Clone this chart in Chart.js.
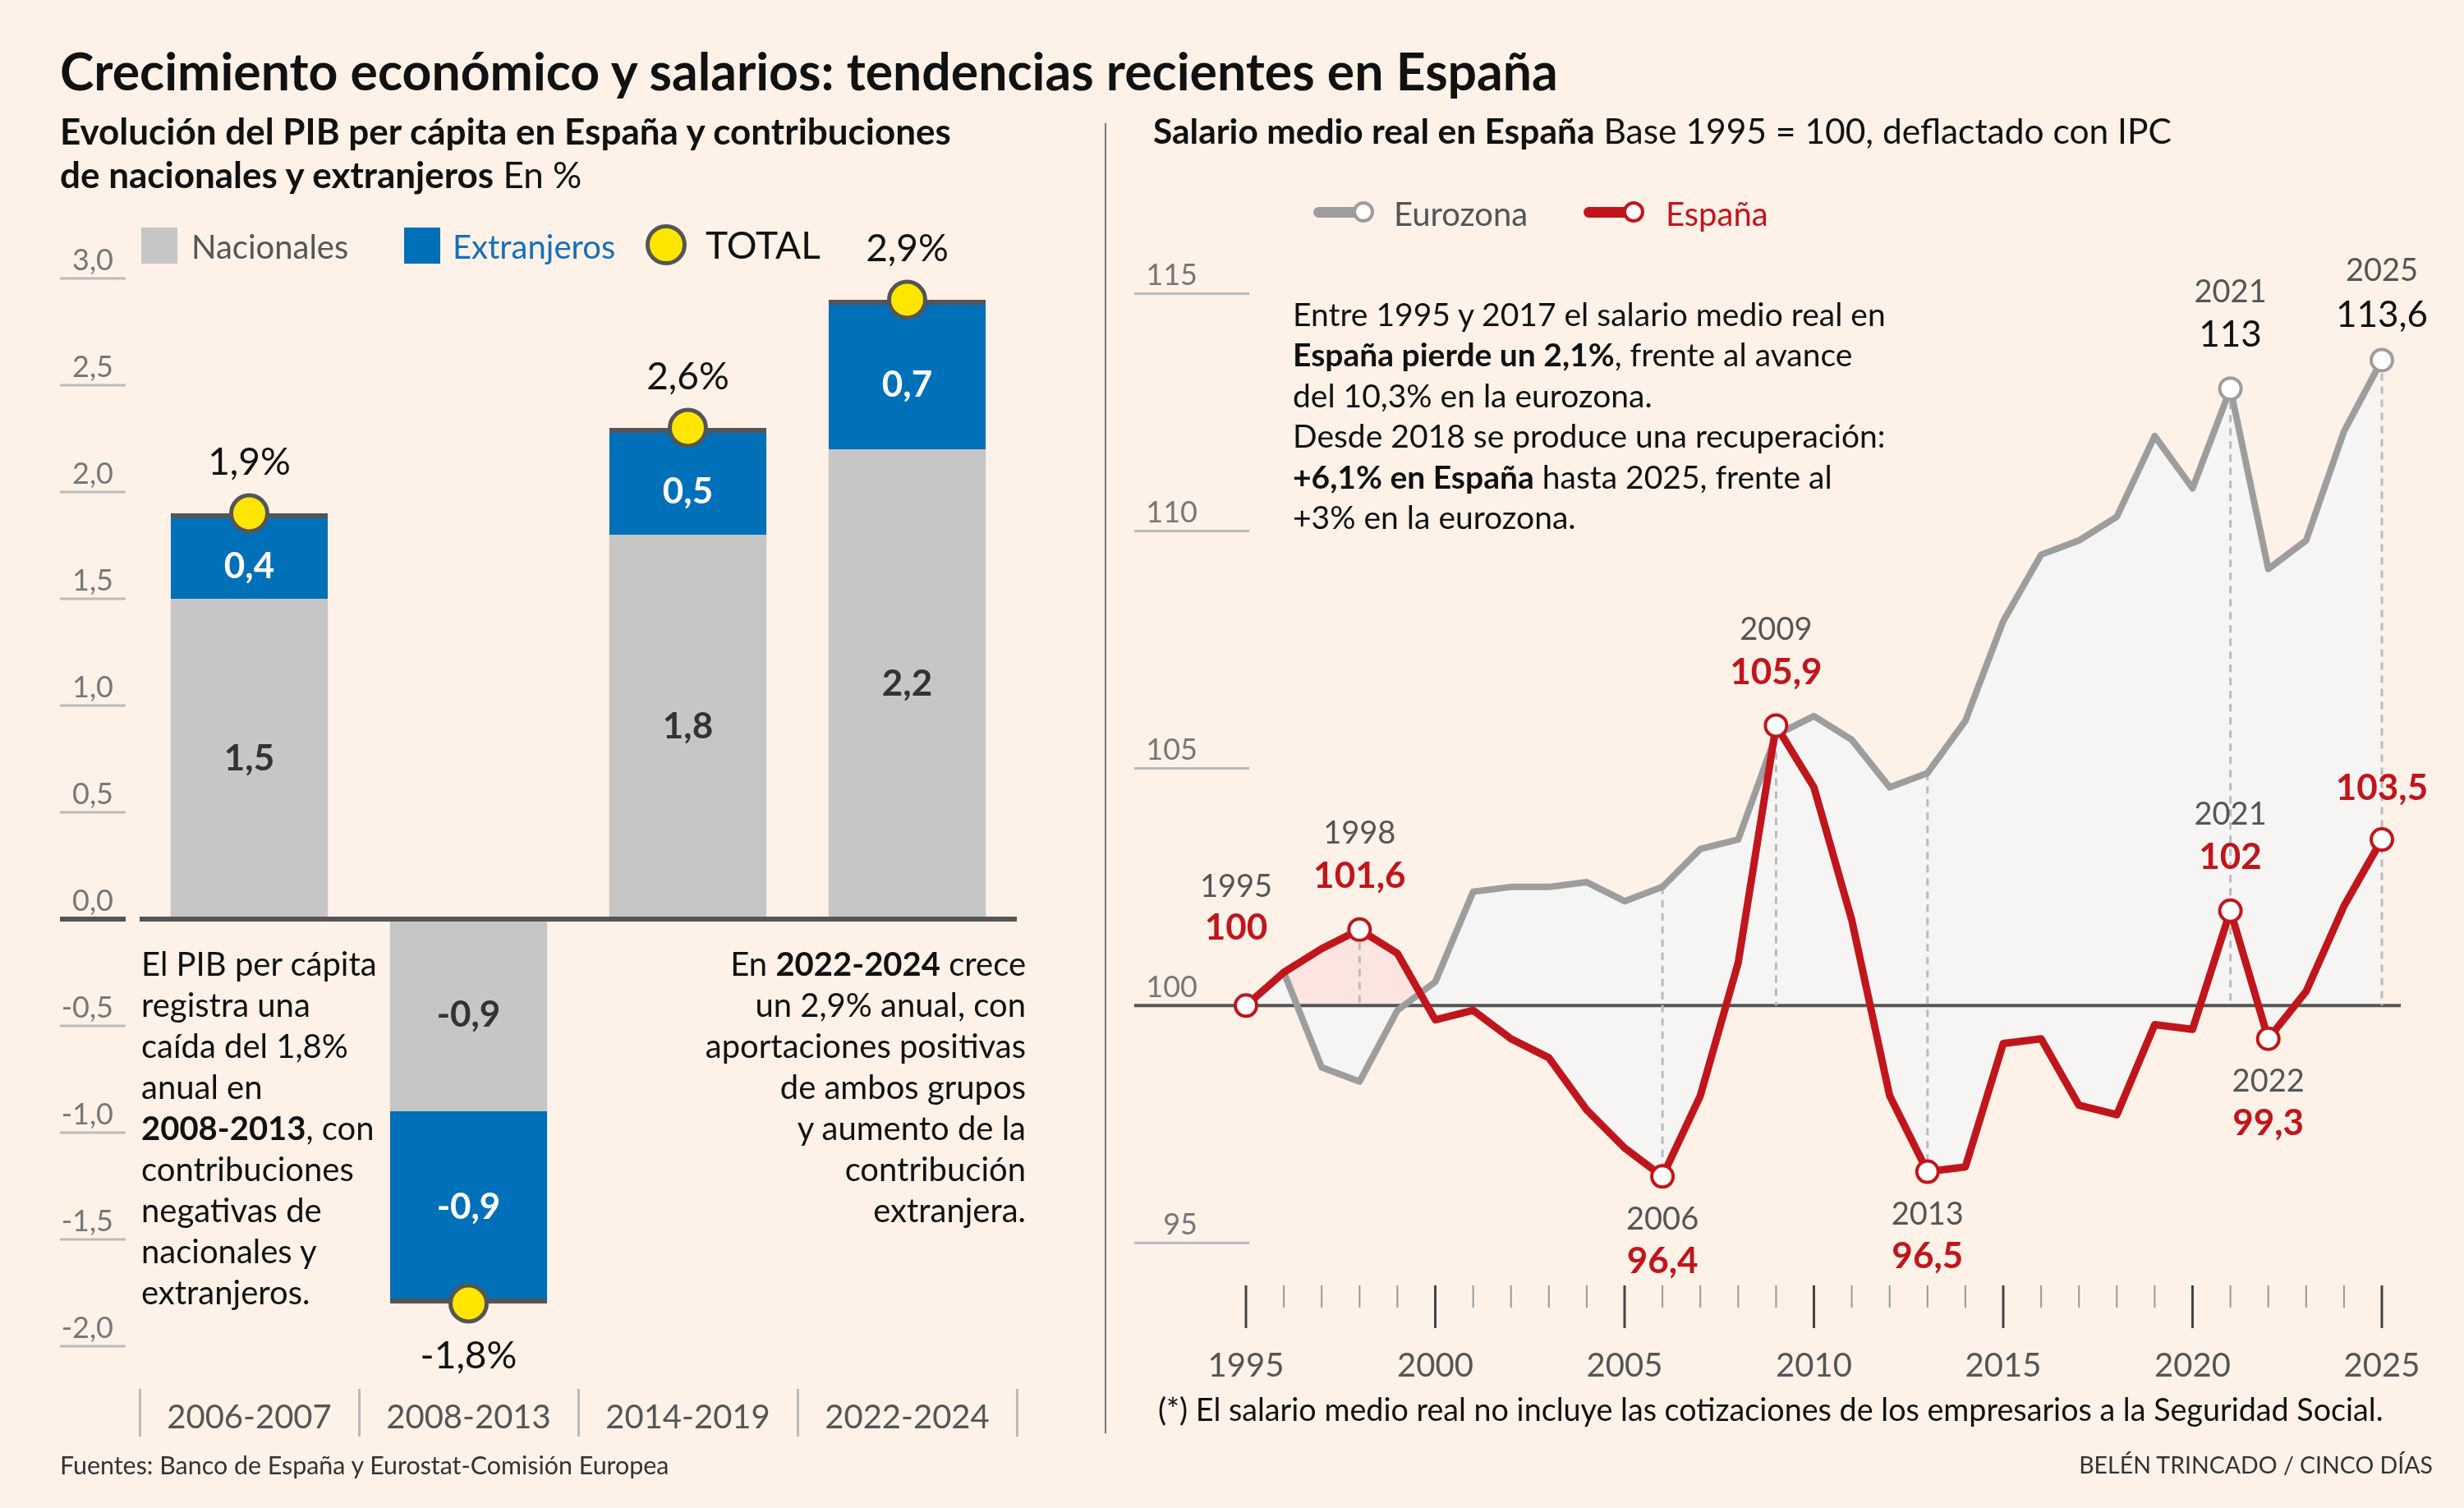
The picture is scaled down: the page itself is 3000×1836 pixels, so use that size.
<!DOCTYPE html>
<html lang="es">
<head>
<meta charset="utf-8">
<title>Crecimiento económico y salarios</title>
<script src="https://cdn.jsdelivr.net/npm/chart.js@4.4.1/dist/chart.umd.min.js"></script>
<style>
  html, body { margin: 0; padding: 0; }
  body {
    width: 3000px; height: 1836px; position: relative; overflow: hidden;
    background: #fdf1e8; color: #111;
    font-family: Lato, "Open Sans", sans-serif;
  }
  canvas { position: absolute; top: 0; }
  #pib { left: 0; }
  #salario { left: 1360px; }
  .t { position: absolute; white-space: nowrap; line-height: 1; transform: translateY(-50%); }
  .blk { position: absolute; white-space: nowrap; }
  .sq { position: absolute; width: 44px; height: 44px; }
  .sep { position: absolute; left: 1345px; top: 150px; width: 2px; height: 1595px; background: #777; }
  .lgline { position: absolute; height: 13px; border-radius: 7px; }
  .lgdot { position: absolute; width: 18px; height: 18px; border-radius: 50%; background: #fff; border: 4px solid; }
</style>
</head>
<body>
<canvas id="pib" width="1320" height="1836"></canvas>
<canvas id="salario" width="1640" height="1836"></canvas>

<div class="sep"></div>

<div class="t" style="left:73px; top:86px; font-size:62.5px; font-weight:700;">Crecimiento económico y salarios: tendencias recientes en España</div>

<div class="t" style="left:73px; top:159px; font-size:44px;"><b>Evolución del PIB per cápita en España y contribuciones</b></div>
<div class="t" style="left:73px; top:212px; font-size:44px;"><b>de nacionales y extranjeros</b> En %</div>

<div class="t" style="left:1404px; top:159px; font-size:42.5px;"><b>Salario medio real en España</b> Base 1995 = 100, deflactado con IPC</div>

<!-- leyenda izquierda -->
<div class="sq" style="left:172px; top:277px; background:#c6c6c6;"></div>
<div class="t" style="left:233px; top:300px; font-size:40px; color:#555;">Nacionales</div>
<div class="sq" style="left:492px; top:277px; background:#0070b8;"></div>
<div class="t" style="left:551px; top:300px; font-size:40px; color:#1570b8;">Extranjeros</div>
<div style="position:absolute; left:786px; top:273px; width:40px; height:40px; border-radius:50%; background:#ffe600; border:5px solid #555;"></div>
<div class="t" style="left:859px; top:298px; font-size:46px;">TOTAL</div>

<!-- leyenda derecha -->
<div class="lgline" style="left:1599px; top:252px; width:60px; background:#9d9d9d;"></div>
<div class="lgdot" style="left:1647px; top:245px; border-color:#9d9d9d;"></div>
<div class="t" style="left:1697px; top:260px; font-size:40px; color:#555;">Eurozona</div>
<div class="lgline" style="left:1928px; top:252px; width:60px; background:#c1151c;"></div>
<div class="lgdot" style="left:1976px; top:245px; border-color:#c1151c;"></div>
<div class="t" style="left:2028px; top:260px; font-size:40px; color:#c1151c;">España</div>

<!-- notas -->
<div class="blk" style="left:172px; top:1148px; font-size:40px; line-height:50px;">
El PIB per cápita<br>registra una<br>caída del 1,8%<br>anual en<br><b>2008-2013</b>, con<br>contribuciones<br>negativas de<br>nacionales y<br>extranjeros.
</div>
<div class="blk" style="right:1751px; top:1148px; font-size:40px; line-height:50px; text-align:right;">
En <b>2022-2024</b> crece<br>un 2,9% anual, con<br>aportaciones positivas<br>de ambos grupos<br>y aumento de la<br>contribución<br>extranjera.
</div>
<div class="blk" style="left:1574px; top:358px; font-size:39px; line-height:49.4px;">
Entre 1995 y 2017 el salario medio real en<br><b>España pierde un 2,1%</b>, frente al avance<br>del 10,3% en la eurozona.<br>Desde 2018 se produce una recuperación:<br><b>+6,1% en España</b> hasta 2025, frente al<br>+3% en la eurozona.
</div>

<div class="t" style="left:1410px; top:1716px; font-size:37.7px;">(*) El salario medio real no incluye las cotizaciones de los empresarios a la Seguridad Social.</div>
<div class="t" style="left:73px; top:1783px; font-size:30.4px; color:#333;">Fuentes: Banco de España y Eurostat-Comisión Europea</div>
<div class="t" style="right:38px; top:1783px; font-size:28.5px; color:#333;">BELÉN TRINCADO / CINCO DÍAS</div>

<script>
// --- PIB per cápita: contribuciones por periodo (puntos porcentuales)
const periodos = ['2006-2007', '2008-2013', '2014-2019', '2022-2024'];
const nacionales = [1.5, -0.9, 1.8, 2.2];
const extranjeros = [0.4, -0.9, 0.5, 0.7];
const totalPunto = [1.9, -1.8, 2.3, 2.9];          // donde se dibuja el círculo
const totalTexto = ['1,9%', '-1,8%', '2,6%', '2,9%'];

// --- Salario medio real, base 1995 = 100
const anios = [1995, 1996, 1997, 1998, 1999, 2000, 2001, 2002, 2003, 2004,
  2005, 2006, 2007, 2008, 2009, 2010, 2011, 2012, 2013, 2014,
  2015, 2016, 2017, 2018, 2019, 2020, 2021, 2022, 2023, 2024, 2025];
const espana = [100, 100.7, 101.2, 101.6, 101.1, 99.7, 99.9, 99.3, 98.9, 97.8,
  97.0, 96.4, 98.1, 100.9, 105.9, 104.6, 101.8, 98.1, 96.5, 96.6,
  99.2, 99.3, 97.9, 97.7, 99.6, 99.5, 102.0, 99.3, 100.3, 102.1, 103.5];
const eurozona = [100, 100.7, 98.7, 98.4, 99.9, 100.5, 102.4, 102.5, 102.5, 102.6,
  102.2, 102.5, 103.3, 103.5, 105.7, 106.1, 105.6, 104.6, 104.9, 106.0,
  108.1, 109.5, 109.8, 110.3, 112.0, 110.9, 113.0, 109.2, 109.8, 112.1, 113.6];
const marcasEspana = [1995, 1998, 2006, 2009, 2013, 2021, 2022, 2025];
const marcasEurozona = [2021, 2025];
const guias = [1998, 2006, 2009, 2013, 2021, 2025];

const coma = v => String(v).replace('.', ',');
const FONT = 'Lato, "Open Sans", sans-serif';

// etiquetas de los años destacados: desplazamientos en px
const rotulos = [
  { serie: 'es', anio: 1995, dy: [-145, -94], dx: -12 },
  { serie: 'es', anio: 1998, dy: [-117, -65] },
  { serie: 'es', anio: 2006, dy: [52, 103] },
  { serie: 'es', anio: 2009, dy: [-117, -65] },
  { serie: 'es', anio: 2013, dy: [52, 103] },
  { serie: 'es', anio: 2021, dy: [-117, -65] },
  { serie: 'es', anio: 2022, dy: [52, 103] },
  { serie: 'es', anio: 2025, dy: [null, -62] },
  { serie: 'eu', anio: 2021, dy: [-117, -65] },
  { serie: 'eu', anio: 2025, dy: [-109, -55] }
];

// ---------- gráfico de barras ----------
const pibDecor = {
  id: 'pibDecor',
  beforeDatasetsDraw(chart) {
    const { ctx, scales: { y } } = chart;
    ctx.save();
    y.ticks.forEach(t => {
      const py = y.getPixelForValue(t.value);
      ctx.strokeStyle = t.value === 0 ? '#555' : '#bbb';
      ctx.lineWidth = t.value === 0 ? 6 : 3;
      ctx.beginPath(); ctx.moveTo(73, py); ctx.lineTo(153, py); ctx.stroke();
    });
    ctx.restore();
  },
  afterDatasetsDraw(chart) {
    const { ctx, chartArea, scales: { y } } = chart;
    ctx.save();
    const y0 = y.getPixelForValue(0);
    ctx.strokeStyle = '#555'; ctx.lineWidth = 6;
    ctx.beginPath(); ctx.moveTo(chartArea.left, y0); ctx.lineTo(chartArea.right, y0); ctx.stroke();

    ctx.textAlign = 'center'; ctx.textBaseline = 'middle';
    ctx.font = '700 44px ' + FONT;
    [1, 2].forEach(di => {
      const meta = chart.getDatasetMeta(di);
      const vals = chart.data.datasets[di].data;
      ctx.fillStyle = di === 1 ? '#333' : '#fff';
      meta.data.forEach((bar, i) => {
        const ajuste = di === 2 && vals[i] > 0 ? 13 : 0;
        ctx.fillText(coma(vals[i]), bar.x, (bar.y + bar.base) / 2 + ajuste);
      });
    });
    ctx.font = '400 46px ' + FONT;
    ctx.fillStyle = '#111';
    chart.getDatasetMeta(0).data.forEach((pt, i) => {
      const off = totalPunto[i] < 0 ? 64 : -62;
      ctx.fillText(totalTexto[i], pt.x, pt.y + off);
    });
    ctx.restore();
  }
};

new Chart(document.getElementById('pib'), {
  type: 'bar',
  data: {
    labels: periodos,
    datasets: [
      {
        type: 'line', label: 'TOTAL', data: totalPunto, stack: 'total',
        showLine: false, pointRadius: 22, pointBorderWidth: 5,
        pointBackgroundColor: '#ffe600', pointBorderColor: '#555', clip: false
      },
      {
        label: 'Nacionales', data: nacionales, backgroundColor: '#c6c6c6',
        borderWidth: 0, categoryPercentage: 1, barPercentage: 0.717
      },
      {
        label: 'Extranjeros', data: extranjeros, backgroundColor: '#0070b8',
        borderColor: '#555', borderWidth: { top: 6, bottom: 6, left: 0, right: 0 },
        borderSkipped: 'start', categoryPercentage: 1, barPercentage: 0.717
      }
    ]
  },
  options: {
    responsive: false, devicePixelRatio: 1, animation: false,
    layout: { padding: { left: 0, top: 287, right: 82, bottom: 0 } },
    plugins: { legend: { display: false }, tooltip: { enabled: false } },
    scales: {
      x: {
        stacked: true,
        border: { display: false },
        grid: { offset: true, drawOnChartArea: false, tickLength: 58, color: '#bbb', lineWidth: 3 },
        ticks: { padding: -47, color: '#555', font: { family: FONT, size: 40 } },
        afterFit: s => { s.height = 145; }
      },
      y: {
        stacked: true, min: -2.2, max: 3.2,
        border: { display: false },
        grid: { display: false, drawTicks: false },
        ticks: {
          stepSize: 0.5, includeBounds: false, padding: 32, labelOffset: -22,
          color: '#777', font: { family: FONT, size: 36 },
          callback: v => v.toFixed(1).replace('.', ',')
        },
        afterFit: s => { s.width = 170; }
      }
    }
  },
  plugins: [pibDecor]
});

// ---------- gráfico de líneas ----------
const salDecor = {
  id: 'salDecor',
  beforeDatasetsDraw(chart) {
    const { ctx, chartArea, scales: { x, y } } = chart;
    ctx.save();
    y.ticks.forEach(t => {
      const py = y.getPixelForValue(t.value);
      if (t.value === 100) return;
      ctx.strokeStyle = '#bbb'; ctx.lineWidth = 3;
      ctx.beginPath(); ctx.moveTo(21, py); ctx.lineTo(161, py); ctx.stroke();
    });
    const y100 = y.getPixelForValue(100);
    ctx.strokeStyle = '#555'; ctx.lineWidth = 4;
    ctx.beginPath(); ctx.moveTo(21, y100); ctx.lineTo(chartArea.right + 23, y100); ctx.stroke();

    ctx.strokeStyle = '#bbb'; ctx.lineWidth = 3; ctx.setLineDash([9, 7]);
    guias.forEach(a => {
      const i = anios.indexOf(a);
      const top = Math.max(espana[i], eurozona[i]);
      const bot = Math.min(espana[i], 100);
      const px = x.getPixelForValue(i);
      ctx.beginPath(); ctx.moveTo(px, y.getPixelForValue(top)); ctx.lineTo(px, y.getPixelForValue(bot)); ctx.stroke();
    });
    ctx.setLineDash([]);

    anios.forEach((a, i) => {
      const px = x.getPixelForValue(i);
      const major = a % 5 === 0;
      ctx.strokeStyle = major ? '#444' : '#999';
      ctx.lineWidth = major ? 3 : 2;
      ctx.beginPath();
      ctx.moveTo(px, chartArea.bottom - 6);
      ctx.lineTo(px, chartArea.bottom + (major ? 46 : 21));
      ctx.stroke();
    });
    ctx.restore();
  },
  afterDatasetsDraw(chart) {
    const { ctx, scales: { x, y } } = chart;
    ctx.save();
    ctx.textAlign = 'center'; ctx.textBaseline = 'middle';
    rotulos.forEach(r => {
      const i = anios.indexOf(r.anio);
      const v = r.serie === 'es' ? espana[i] : eurozona[i];
      const px = x.getPixelForValue(i) + (r.dx || 0);
      const py = y.getPixelForValue(v);
      if (r.dy[0] !== null) {
        ctx.font = '400 38px ' + FONT; ctx.fillStyle = '#555';
        ctx.fillText(String(r.anio), px, py + r.dy[0]);
      }
      if (r.serie === 'es') { ctx.font = '700 44px ' + FONT; ctx.fillStyle = '#c1151c'; }
      else { ctx.font = '400 44px ' + FONT; ctx.fillStyle = '#111'; }
      ctx.fillText(coma(v), px, py + r.dy[1]);
    });
    ctx.restore();
  }
};

const radio = marcas => c => marcas.includes(anios[c.dataIndex]) ? 13 : 0;
const GRIS_FONDO = '#f6f5f4';
const ROSA_FONDO = '#fce4e0';

new Chart(document.getElementById('salario'), {
  type: 'line',
  data: {
    labels: anios,
    datasets: [
      {
        label: 'España', data: espana, order: 0,
        borderColor: '#c1151c', borderWidth: 9,
        tension: 0, borderJoinStyle: 'round', fill: false, clip: false,
        pointRadius: radio(marcasEspana), pointBackgroundColor: '#fff',
        pointBorderColor: '#c1151c', pointBorderWidth: 4
      },
      {
        label: 'Eurozona', data: eurozona, order: 1,
        borderColor: '#9d9d9d', borderWidth: 8,
        tension: 0, borderJoinStyle: 'round', clip: false,
        fill: { target: { value: 100 }, above: GRIS_FONDO, below: GRIS_FONDO },
        pointRadius: radio(marcasEurozona), pointBackgroundColor: '#fff',
        pointBorderColor: '#9d9d9d', pointBorderWidth: 4
      },
      {
        // sombreado de España respecto a la base 100 (sin línea)
        label: 'España fondo', data: espana, order: 2,
        borderWidth: 0, pointRadius: 0, tension: 0,
        fill: { target: { value: 100 }, above: ROSA_FONDO, below: GRIS_FONDO }
      }
    ]
  },
  options: {
    responsive: false, devicePixelRatio: 1, animation: false,
    layout: { padding: { left: 0, top: 242, right: 100, bottom: 0 } },
    plugins: {
      legend: { display: false }, tooltip: { enabled: false },
      filler: { drawTime: 'beforeDatasetsDraw' }
    },
    scales: {
      x: {
        border: { display: false },
        grid: { display: false, drawTicks: true, tickLength: 68 },
        ticks: {
          autoSkip: false, maxRotation: 0, padding: 0,
          color: '#555', font: { family: FONT, size: 40 },
          callback: (v, i) => anios[i] % 5 === 0 ? String(anios[i]) : ''
        },
        afterFit: s => { s.height = 265; }
      },
      y: {
        min: 94, max: 117,
        border: { display: false },
        grid: { display: false, drawTicks: false },
        ticks: {
          stepSize: 5, includeBounds: false, padding: 59, labelOffset: -22,
          color: '#777', font: { family: FONT, size: 36 }
        },
        afterFit: s => { s.width = 157; }
      }
    }
  },
  plugins: [salDecor]
});
</script>
</body>
</html>
